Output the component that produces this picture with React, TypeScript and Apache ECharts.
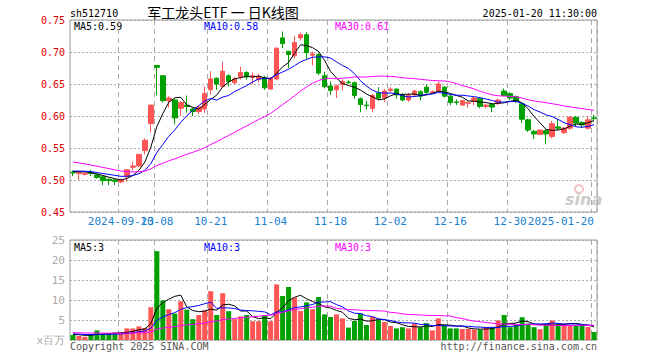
import React, { useEffect, useRef } from 'react';
import * as echarts from 'echarts';

const dates = [
  '2024-09-09','2024-09-10','2024-09-11','2024-09-12','2024-09-13','2024-09-18','2024-09-19','2024-09-20','2024-09-23','2024-09-24','2024-09-25','2024-09-26','2024-09-27','2024-09-30',
  '2024-10-08','2024-10-09','2024-10-10','2024-10-11','2024-10-14','2024-10-15','2024-10-16','2024-10-17','2024-10-18','2024-10-21','2024-10-22','2024-10-23','2024-10-24','2024-10-25','2024-10-28','2024-10-29','2024-10-30','2024-10-31',
  '2024-11-01','2024-11-04','2024-11-05','2024-11-06','2024-11-07','2024-11-08','2024-11-11','2024-11-12','2024-11-13','2024-11-14','2024-11-15','2024-11-18','2024-11-19','2024-11-20','2024-11-21','2024-11-22','2024-11-25','2024-11-26','2024-11-27','2024-11-28','2024-11-29',
  '2024-12-02','2024-12-03','2024-12-04','2024-12-05','2024-12-06','2024-12-09','2024-12-10','2024-12-11','2024-12-12','2024-12-13','2024-12-16','2024-12-17','2024-12-18','2024-12-19','2024-12-20','2024-12-23','2024-12-24','2024-12-25','2024-12-26','2024-12-27','2024-12-30','2024-12-31',
  '2025-01-02','2025-01-03','2025-01-06','2025-01-07','2025-01-08','2025-01-09','2025-01-10','2025-01-13','2025-01-14','2025-01-15','2025-01-16','2025-01-17','2025-01-20',
];

const opens = [
  0.512,0.510,0.509,0.512,0.508,0.505,0.501,0.500,0.497,0.505,0.520,0.522,0.546,0.588,
  0.679,0.663,0.624,0.625,0.612,0.617,0.611,0.607,0.611,0.641,0.659,0.646,0.663,0.652,0.661,0.668,0.661,0.657,
  0.660,0.642,0.658,0.722,0.701,0.694,0.722,0.727,0.695,0.696,0.663,0.647,0.641,0.649,0.653,0.652,0.627,0.617,0.612,0.636,0.628,
  0.640,0.642,0.633,0.625,0.633,0.638,0.645,0.637,0.639,0.645,0.631,0.622,0.617,0.620,0.623,0.627,0.615,0.618,0.620,0.639,0.635,0.630,
  0.619,0.594,0.576,0.571,0.577,0.568,0.583,0.574,0.581,0.598,0.590,0.581,0.597,
];
const closes = [
  0.511,0.512,0.510,0.510,0.504,0.499,0.499,0.498,0.500,0.516,0.522,0.540,0.562,0.617,
  0.676,0.624,0.628,0.597,0.621,0.615,0.607,0.614,0.635,0.658,0.650,0.670,0.654,0.658,0.668,0.661,0.663,0.662,
  0.644,0.659,0.706,0.713,0.696,0.715,0.727,0.699,0.697,0.667,0.646,0.640,0.647,0.654,0.652,0.632,0.618,0.616,0.632,0.628,0.639,
  0.642,0.633,0.625,0.632,0.639,0.631,0.637,0.638,0.650,0.631,0.621,0.621,0.624,0.621,0.628,0.615,0.617,0.614,0.625,0.632,0.628,0.623,
  0.595,0.578,0.572,0.578,0.572,0.588,0.581,0.581,0.598,0.589,0.586,0.594,0.596,
];
const lows = [
  0.506,0.500,0.507,0.506,0.502,0.492,0.492,0.492,0.495,0.497,0.515,0.520,0.540,0.574,
  0.632,0.621,0.613,0.587,0.600,0.605,0.600,0.603,0.605,0.633,0.641,0.645,0.646,0.650,0.657,0.657,0.650,0.653,
  0.641,0.641,0.656,0.706,0.675,0.690,0.718,0.688,0.679,0.664,0.643,0.633,0.628,0.640,0.650,0.627,0.606,0.610,0.606,0.625,0.622,
  0.637,0.627,0.623,0.622,0.630,0.624,0.634,0.635,0.637,0.629,0.617,0.617,0.616,0.613,0.617,0.612,0.612,0.606,0.617,0.631,0.625,0.620,
  0.589,0.575,0.564,0.570,0.556,0.565,0.578,0.572,0.578,0.584,0.582,0.579,0.592,
];
const highs = [
  0.515,0.514,0.512,0.516,0.510,0.507,0.503,0.501,0.502,0.517,0.529,0.541,0.565,0.618,
  0.679,0.663,0.631,0.627,0.623,0.632,0.613,0.617,0.646,0.670,0.660,0.685,0.665,0.661,0.677,0.670,0.668,0.666,
  0.663,0.661,0.707,0.732,0.702,0.725,0.730,0.731,0.701,0.698,0.669,0.654,0.649,0.657,0.656,0.654,0.629,0.624,0.635,0.645,0.642,
  0.645,0.643,0.636,0.636,0.641,0.640,0.649,0.640,0.654,0.647,0.633,0.626,0.625,0.623,0.630,0.628,0.619,0.620,0.627,0.643,0.637,0.632,
  0.621,0.596,0.578,0.579,0.579,0.592,0.595,0.583,0.600,0.600,0.592,0.600,0.602,
];
// volume in millions (x百万)
const volumes = [
  1.25,1.0,0.8,1.4,2.4,1.6,1.6,1.75,1.7,2.9,2.9,3.4,3.0,8.2,
  22.2,9.9,7.7,6.6,9.7,7.6,5.2,6.25,7.4,12.2,6.25,11.7,7.2,5.2,5.9,6.25,4.7,4.7,
  6.2,4.7,13.9,11.0,13.25,10.6,7.25,9.4,7.7,10.75,6.4,5.75,6.4,5.4,3.1,4.75,6.6,3.75,5.75,5.0,4.5,
  3.5,2.9,3.2,2.9,4.1,3.2,4.2,2.4,5.4,3.75,2.9,2.9,2.75,2.75,2.6,2.6,3.1,3.1,4.9,6.25,3.2,3.75,
  5.7,4.1,3.2,2.7,3.7,4.9,4.2,4.1,3.75,3.75,3.75,3.25,2.0,
];
// closes / volumes of the 29 sessions before the window (estimated so the moving averages start as drawn)
const priorCloses = [
  0.552,0.560,0.562,0.558,0.553,0.556,0.555,0.556,0.545,0.538,0.532,0.525,0.520,0.518,0.515,
  0.512,0.510,0.508,0.512,0.515,0.513,0.512,0.516,0.518,0.515,0.513,0.512,0.516,0.514,
];
const priorVolumes = [
  2.3,2.1,1.9,2.2,2.0,1.8,2.4,2.1,1.9,2.0,1.7,1.9,2.2,1.8,1.9,
  2.1,1.8,1.7,2.0,1.9,1.8,1.9,1.6,1.7,1.5,1.4,1.5,1.3,1.5,
];
const tickDates = ['2024-09-23','2024-10-08','2024-10-21','2024-11-04','2024-11-18','2024-12-02','2024-12-16','2024-12-30','2025-01-20'];

const priceTicks = { min: 0.45, max: 0.75, step: 0.05 };
const volTicks = { min: 0, max: 25, step: 5 };

const RED = '#ff5555';
const GREEN = '#00a000';
const MONO = '"DejaVu Sans Mono", monospace';

function movingAverage(values: number[], prior: number[], n: number): number[] {
  const all = prior.concat(values);
  const off = prior.length;
  return values.map((_, i) => {
    let s = 0;
    for (let j = off + i - n + 1; j <= off + i; j++) s += all[j];
    return +(s / n).toFixed(4);
  });
}

export default function App() {
  const ref = useRef<HTMLDivElement>(null);
  useEffect(() => {
    if (!ref.current) return;
    const chart = echarts.init(ref.current, null, { renderer: 'svg' });
    const tickIdx = tickDates.map((d) => dates.indexOf(d));
    const tickSet = new Set(tickIdx);
    const showTick = (i: number) => tickSet.has(i);
    const firstTick = tickIdx[0];
    const labelFmt = (v: string, i: number) => {
      const pos = tickIdx.indexOf(i);
      if (pos === 0) return v;
      if (pos > 0 && dates[tickIdx[pos - 1]].slice(0, 4) !== v.slice(0, 4)) return v;
      return v.slice(5);
    };
    const vSplit = { show: true, interval: showTick, lineStyle: { color: '#aaa', type: [5, 4], width: 1 } };
    const hSplit = { show: true, lineStyle: { color: '#aaa', type: [2, 2], width: 1 } };
    const xLabelBase = { formatter: labelFmt, color: '#1a7fd0', fontFamily: MONO, fontSize: 11, margin: 4, hideOverlap: false };
    const ma = (data: number[], color: string, xi: number) => ({
      type: 'line', xAxisIndex: xi, yAxisIndex: xi, data, symbol: 'none', silent: true,
      lineStyle: { color, width: 1 }, z: 5,
    });
    const txt = (text: string, x: number, y: number, color: string, font: string, align = 'left') => ({
      type: 'text', x, y, silent: true,
      style: { text, fill: color, font, textAlign: align, align, textVerticalAlign: 'middle', verticalAlign: 'middle' },
    });
    const option: any = {
      animation: false,
      backgroundColor: '#ffffff',
      grid: [
        { left: 70, right: 63, top: 20, height: 192, show: true, borderColor: '#999', borderWidth: 1 },
        { left: 70, right: 63, top: 240, height: 100, show: true, borderColor: '#999', borderWidth: 1 },
      ],
      xAxis: [
        {
          type: 'category', gridIndex: 0, data: dates, boundaryGap: true, position: 'bottom',
          axisLine: { show: false }, axisTick: { show: false },
          axisLabel: { ...xLabelBase, interval: (i: number) => tickSet.has(i) && i !== firstTick, alignMaxLabel: 'right' },
          splitLine: vSplit,
        },
        {
          type: 'category', gridIndex: 1, data: dates, boundaryGap: true,
          axisLine: { show: false }, axisTick: { show: false }, axisLabel: { show: false },
          splitLine: vSplit,
        },
        {
          type: 'category', gridIndex: 0, data: dates, boundaryGap: true, position: 'bottom', offset: 0,
          axisLine: { show: false }, axisTick: { show: false }, splitLine: { show: false },
          axisLabel: { ...xLabelBase, interval: (i: number) => i === firstTick },
        },
      ],
      yAxis: [
        {
          type: 'value', gridIndex: 0, min: priceTicks.min, max: priceTicks.max, interval: priceTicks.step,
          axisLine: { show: false }, axisTick: { show: false },
          axisLabel: { formatter: (v: number) => v.toFixed(2), color: '#e00000', fontFamily: MONO, fontSize: 10, margin: 5 },
          splitLine: hSplit,
        },
        {
          type: 'value', gridIndex: 1, min: volTicks.min, max: volTicks.max, interval: volTicks.step,
          axisLine: { show: false }, axisTick: { show: false },
          axisLabel: { formatter: (v: number) => (v === 0 ? 'x百万' : String(v)), color: '#aaaaaa', fontFamily: MONO, fontSize: 11, margin: 5 },
          splitLine: hSplit,
        },
      ],
      series: [
        {
          type: 'candlestick', xAxisIndex: 0, yAxisIndex: 0, barWidth: 5,
          data: opens.map((o, i) => [o, closes[i], lows[i], highs[i]]),
          itemStyle: { color: RED, color0: GREEN, borderColor: RED, borderColor0: GREEN, borderWidth: 1 },
        },
        ma(movingAverage(closes, priorCloses, 5), '#000000', 0),
        ma(movingAverage(closes, priorCloses, 10), '#0000ff', 0),
        ma(movingAverage(closes, priorCloses, 30), '#ff00ff', 0),
        {
          type: 'bar', xAxisIndex: 1, yAxisIndex: 1, barWidth: 5,
          data: volumes.map((v, i) => ({ value: v, itemStyle: { color: closes[i] >= opens[i] ? RED : GREEN } })),
        },
        ma(movingAverage(volumes, priorVolumes, 5), '#000000', 1),
        ma(movingAverage(volumes, priorVolumes, 10), '#0000ff', 1),
        ma(movingAverage(volumes, priorVolumes, 30), '#ff00ff', 1),
      ],
      graphic: [
        txt('sh512710', 70, 13, '#000', `10px ${MONO}`),
        txt('军工龙头ETF 一 日K线图', 223, 12, '#000', '14px "Noto Sans CJK SC"', 'center'),
        txt('2025-01-20 11:30:00', 597, 13, '#000', `10px ${MONO}`, 'right'),
        txt('MA5:0.59', 74, 26, '#000', `10px ${MONO}`),
        txt('MA10:0.58', 204, 26, '#0000ff', `10px ${MONO}`),
        txt('MA30:0.61', 335, 26, '#ff00ff', `10px ${MONO}`),
        txt('MA5:3', 74, 247, '#000', `10px ${MONO}`),
        txt('MA10:3', 204, 247, '#0000ff', `10px ${MONO}`),
        txt('MA30:3', 335, 247, '#ff00ff', `10px ${MONO}`),
        txt('Copyright 2025 SINA.COM', 70, 346, '#555', `10px ${MONO}`),
        txt('http://finance.sina.com.cn', 597, 346, '#555', `10px ${MONO}`, 'right'),
        { type: 'ring', silent: true, shape: { cx: 579, cy: 189, r: 5, r0: 3 }, style: { fill: '#f2c4c4' } },
        txt('sina', 565, 199, '#cccccc', 'italic bold 16px "DejaVu Sans"'),
      ],
    };
    chart.setOption(option);
    return () => chart.dispose();
  }, []);
  return <div ref={ref} style={{ position: 'fixed', left: 0, top: 0, width: 660, height: 360 }} />;
}
